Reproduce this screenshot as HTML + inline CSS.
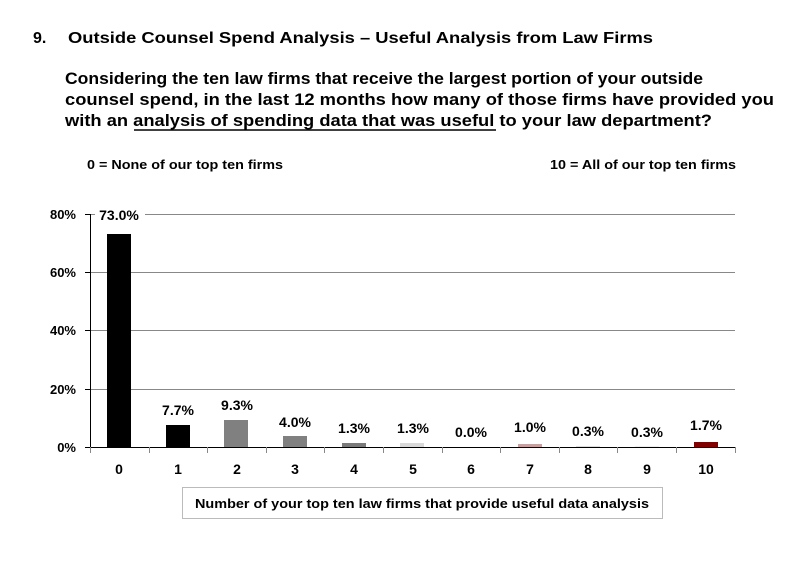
<!DOCTYPE html>
<html><head><meta charset="utf-8"><style>
html,body{margin:0;padding:0;background:#fff;}
svg{display:block;}
text{font-family:"Liberation Sans",Arial,sans-serif;font-weight:bold;fill:#000;}
</style></head><body>
<svg width="812" height="563" viewBox="0 0 812 563" xmlns="http://www.w3.org/2000/svg">
<text x="33" y="43" font-size="16">9.</text>
<text x="68" y="43" font-size="16" textLength="585" lengthAdjust="spacingAndGlyphs">Outside Counsel Spend Analysis – Useful Analysis from Law Firms</text>
<text x="65" y="84" font-size="17" textLength="638" lengthAdjust="spacingAndGlyphs">Considering the ten law firms that receive the largest portion of your outside</text>
<text x="65" y="105" font-size="17" textLength="709" lengthAdjust="spacingAndGlyphs">counsel spend, in the last 12 months how many of those firms have provided you</text>
<text x="65" y="126" font-size="17" textLength="647" lengthAdjust="spacingAndGlyphs">with an analysis of spending data that was useful to your law department?</text>
<line x1="134" y1="130" x2="496" y2="130" stroke="#000" stroke-width="1.5"/>
<text x="87" y="169" font-size="13" textLength="196" lengthAdjust="spacingAndGlyphs">0 = None of our top ten firms</text>
<text x="550" y="169" font-size="13" textLength="186" lengthAdjust="spacingAndGlyphs">10 = All of our top ten firms</text>
<g stroke="#888" stroke-width="1">
<line x1="90" y1="214.5" x2="735" y2="214.5"/>
<line x1="90" y1="272.5" x2="735" y2="272.5"/>
<line x1="90" y1="330.5" x2="735" y2="330.5"/>
<line x1="90" y1="389.5" x2="735" y2="389.5"/>
</g>
<rect x="95" y="205" width="50" height="18" fill="#fff"/>
<g font-size="13" text-anchor="end">
<text x="76" y="219">80%</text><text x="76" y="277">60%</text><text x="76" y="335">40%</text><text x="76" y="394">20%</text><text x="76" y="452">0%</text>
</g>
<g>
<rect x="107" y="234" width="24" height="213" fill="#000"/>
<rect x="166" y="425" width="24" height="22" fill="#000"/>
<rect x="224" y="420" width="24" height="27" fill="#808080"/>
<rect x="283" y="436" width="24" height="11" fill="#808080"/>
<rect x="342" y="443" width="24" height="4" fill="#7a7a7a"/>
<rect x="400" y="443" width="24" height="4" fill="#d9d9d9"/>
<rect x="518" y="444" width="24" height="3" fill="#c9a0a0"/>
<rect x="576" y="446" width="24" height="1" fill="#ddd"/>
<rect x="635" y="446" width="24" height="1" fill="#eee"/>
<rect x="694" y="442" width="24" height="5" fill="#800000"/>
</g>
<g stroke="#000" stroke-width="1">
<line x1="90.5" y1="214" x2="90.5" y2="447"/>
<line x1="85" y1="214.5" x2="90" y2="214.5"/>
<line x1="85" y1="272.5" x2="90" y2="272.5"/>
<line x1="85" y1="330.5" x2="90" y2="330.5"/>
<line x1="85" y1="389.5" x2="90" y2="389.5"/>
<line x1="85" y1="447.5" x2="736" y2="447.5"/>
</g>
<g stroke="#888" stroke-width="1">
<line x1="90.5" y1="447" x2="90.5" y2="453"/><line x1="149.5" y1="447" x2="149.5" y2="453"/><line x1="207.5" y1="447" x2="207.5" y2="453"/><line x1="266.5" y1="447" x2="266.5" y2="453"/><line x1="324.5" y1="447" x2="324.5" y2="453"/><line x1="383.5" y1="447" x2="383.5" y2="453"/><line x1="442.5" y1="447" x2="442.5" y2="453"/><line x1="500.5" y1="447" x2="500.5" y2="453"/><line x1="559.5" y1="447" x2="559.5" y2="453"/><line x1="617.5" y1="447" x2="617.5" y2="453"/><line x1="676.5" y1="447" x2="676.5" y2="453"/><line x1="735.5" y1="447" x2="735.5" y2="453"/>
</g>
<g font-size="14" text-anchor="middle">
<text x="119" y="220">73.0%</text>
<text x="178" y="415">7.7%</text>
<text x="237" y="410">9.3%</text>
<text x="295" y="427">4.0%</text>
<text x="354" y="433">1.3%</text>
<text x="413" y="433">1.3%</text>
<text x="471" y="437">0.0%</text>
<text x="530" y="432">1.0%</text>
<text x="588" y="436">0.3%</text>
<text x="647" y="437">0.3%</text>
<text x="706" y="430">1.7%</text>
</g>
<g font-size="14" text-anchor="middle">
<text x="119" y="474">0</text><text x="178" y="474">1</text><text x="237" y="474">2</text><text x="295" y="474">3</text><text x="354" y="474">4</text><text x="413" y="474">5</text><text x="471" y="474">6</text><text x="530" y="474">7</text><text x="588" y="474">8</text><text x="647" y="474">9</text><text x="706" y="474">10</text>
</g>
<rect x="182.5" y="487.5" width="480" height="31" fill="#fff" stroke="#bbb" stroke-width="1"/>
<text x="422" y="508" font-size="13" text-anchor="middle" textLength="454" lengthAdjust="spacingAndGlyphs">Number of your top ten law firms that provide useful data analysis</text>
</svg>
</body></html>
